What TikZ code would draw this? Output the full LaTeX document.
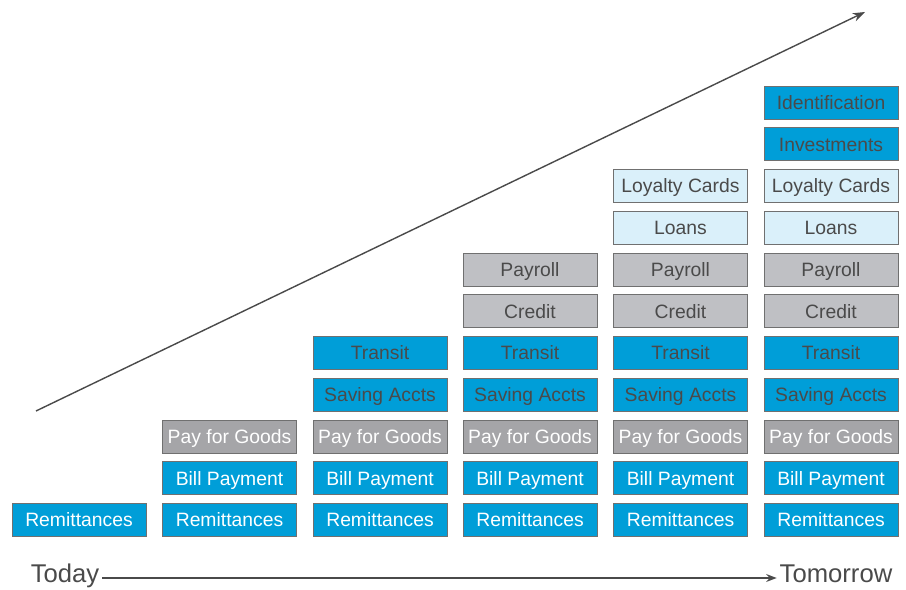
\documentclass[tikz,border=0pt]{standalone}
\usepackage{fontspec}
\setmainfont{Liberation Sans}
\usetikzlibrary{arrows.meta}
\definecolor{svcblue}{HTML}{009ED8}
\definecolor{svcgray}{HTML}{A5A5A8}
\definecolor{svclgray}{HTML}{BFC0C4}
\definecolor{svclblue}{HTML}{DAF0FA}
\definecolor{svcline}{HTML}{707070}
\definecolor{svctext}{HTML}{4A4A4A}
\tikzset{
  svc/.style={draw=svcline, line width=0.55pt, minimum width=2.68cm, minimum height=0.66cm,
    inner sep=0pt, text height=7.9pt, text depth=0pt, font=\fontsize{11}{13}\selectfont},
  bluew/.style={svc, fill=svcblue, text=white},
  blued/.style={svc, fill=svcblue, text=svctext},
  grayw/.style={svc, fill=svcgray, text=white},
  grayd/.style={svc, fill=svclgray, text=svctext},
  lblue/.style={svc, fill=svclblue, text=svctext},
  timelbl/.style={font=\fontsize{14.6}{17}\selectfont, text=svctext, inner sep=1.5pt,
    text height=7.5pt, text depth=2.8pt}
}
\begin{document}
\begin{tikzpicture}[x=0.02cm, y=-0.02cm]
      \useasboundingbox (0,0) rectangle (906,590);
      % column 1
      \node[bluew] (rem1) at (79,520) {Remittances};
      % column 2
      \node[bluew] (rem2) at (229.5,520) {Remittances};
      \node[bluew] (bill2) at (229.5,478.3) {Bill Payment};
      \node[grayw] (pay2) at (229.5,436.5) {Pay for Goods};
      % column 3
      \node[bluew] (rem3) at (380,520) {Remittances};
      \node[bluew] (bill3) at (380,478.3) {Bill Payment};
      \node[grayw] (pay3) at (380,436.5) {Pay for Goods};
      \node[blued] (sav3) at (380,394.8) {Saving Accts};
      \node[blued] (tra3) at (380,353) {Transit};
      % column 4
      \node[bluew] (rem4) at (530,520) {Remittances};
      \node[bluew] (bill4) at (530,478.3) {Bill Payment};
      \node[grayw] (pay4) at (530,436.5) {Pay for Goods};
      \node[blued] (sav4) at (530,394.8) {Saving Accts};
      \node[blued] (tra4) at (530,353) {Transit};
      \node[grayd] (cre4) at (530,311.3) {Credit};
      \node[grayd] (prl4) at (530,269.5) {Payroll};
      % column 5
      \node[bluew] (rem5) at (680.5,520) {Remittances};
      \node[bluew] (bill5) at (680.5,478.3) {Bill Payment};
      \node[grayw] (pay5) at (680.5,436.5) {Pay for Goods};
      \node[blued] (sav5) at (680.5,394.8) {Saving Accts};
      \node[blued] (tra5) at (680.5,353) {Transit};
      \node[grayd] (cre5) at (680.5,311.3) {Credit};
      \node[grayd] (prl5) at (680.5,269.5) {Payroll};
      \node[lblue] (loa5) at (680.5,227.8) {Loans};
      \node[lblue] (loy5) at (680.5,186) {Loyalty Cards};
      % column 6
      \node[bluew] (rem6) at (831,520) {Remittances};
      \node[bluew] (bill6) at (831,478.3) {Bill Payment};
      \node[grayw] (pay6) at (831,436.5) {Pay for Goods};
      \node[blued] (sav6) at (831,394.8) {Saving Accts};
      \node[blued] (tra6) at (831,353) {Transit};
      \node[grayd] (cre6) at (831,311.3) {Credit};
      \node[grayd] (prl6) at (831,269.5) {Payroll};
      \node[lblue] (loa6) at (831,227.8) {Loans};
      \node[lblue] (loy6) at (831,186) {Loyalty Cards};
      \node[blued] (inv6) at (831,144.3) {Investments};
      \node[blued] (idf6) at (831,102.5) {Identification};
      % growth arrow
      \coordinate (grow0) at (36,411);
      \coordinate (grow1) at (865,12);
      \draw[svctext, line width=0.8pt, -{Stealth[length=7pt,width=5pt]}] (grow0) -- (grow1);
      % time line
      \node[timelbl] (today) at (65,578) {Today};
      \node[timelbl] (tomorrow) at (836,578) {Tomorrow};
      \draw[svctext, line width=0.8pt, -{Stealth[length=6pt,width=4.5pt]}] (today.east) -- (tomorrow.west);
    \end{tikzpicture}
\end{document}
